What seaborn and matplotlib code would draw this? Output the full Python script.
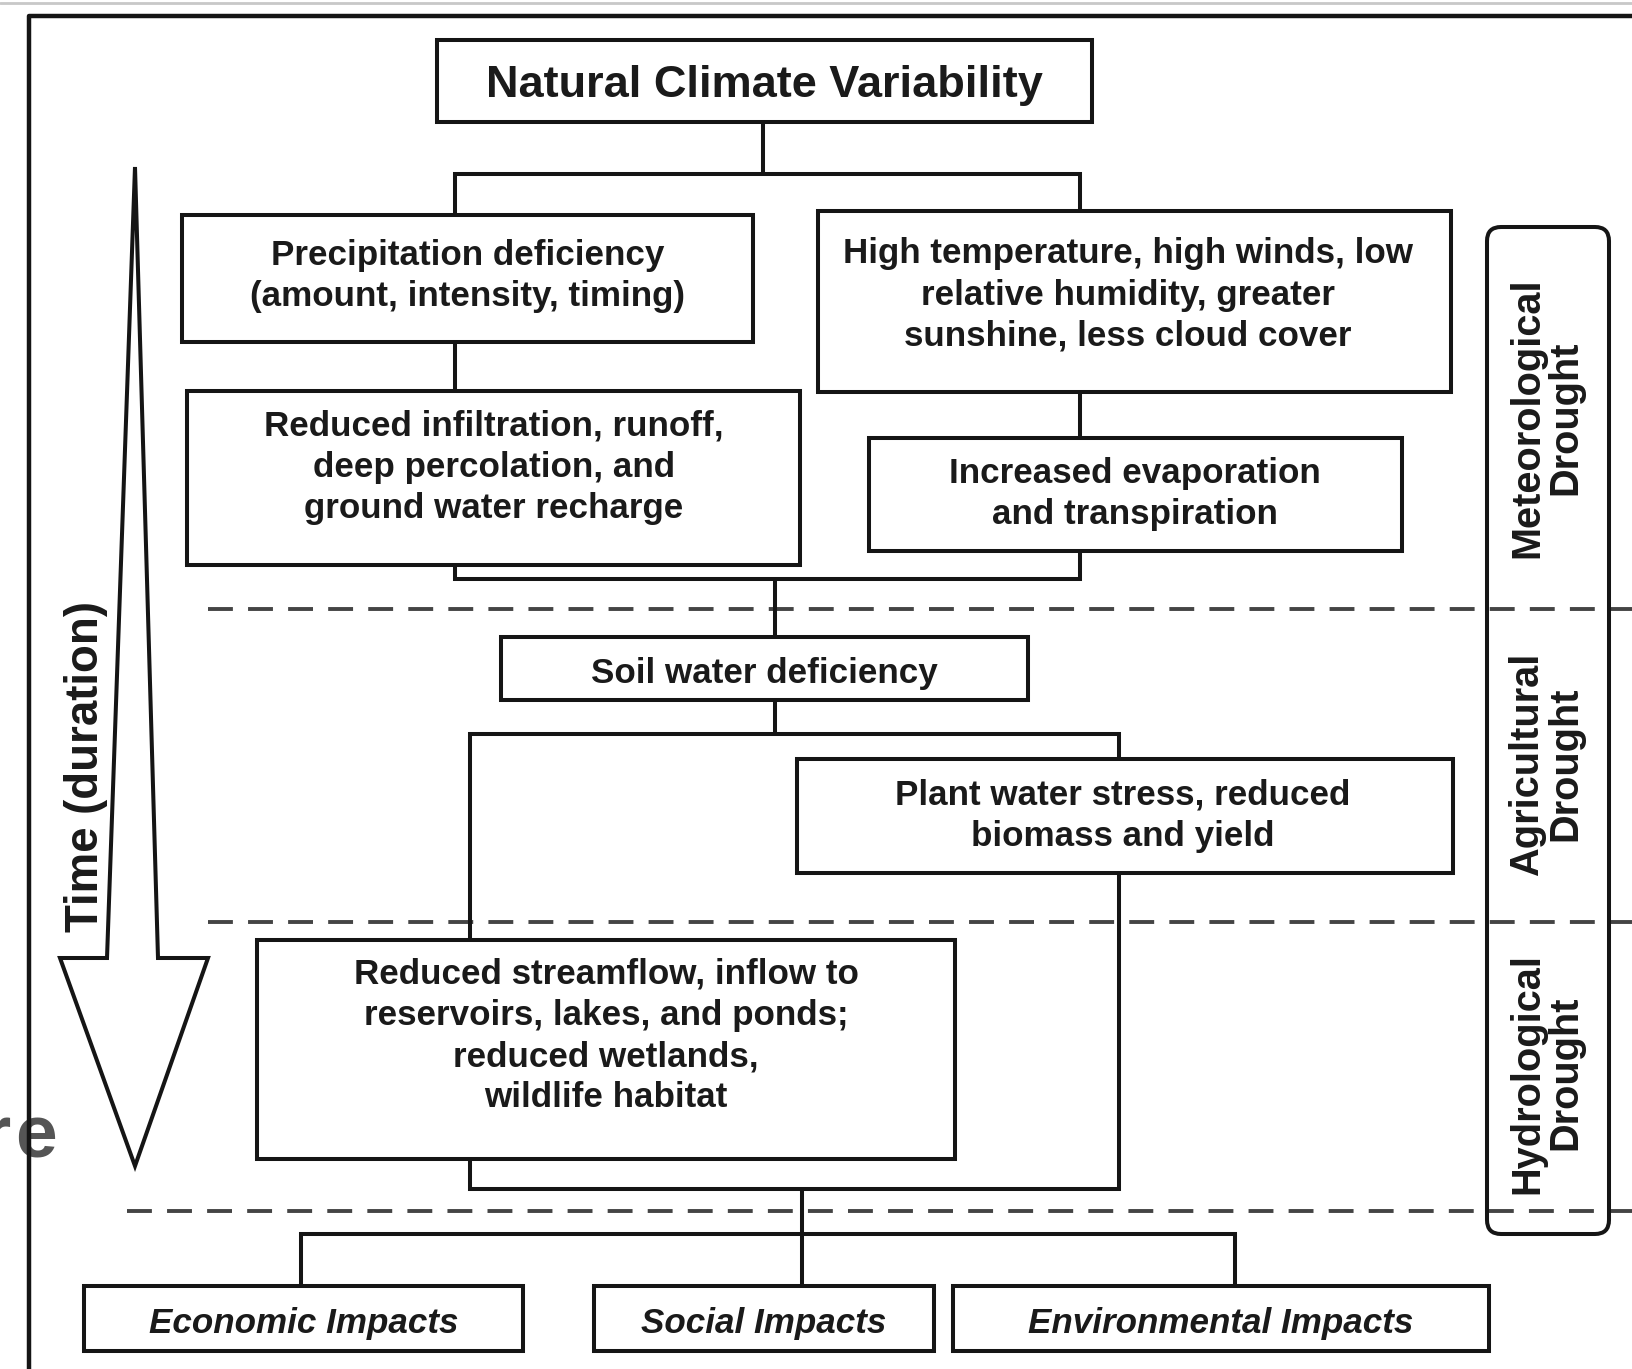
import matplotlib
matplotlib.use("Agg")
import matplotlib.pyplot as plt
from matplotlib.patches import Rectangle, FancyBboxPatch, Polygon
import seaborn as sns
import pandas as pd

sns.set_theme(style="white")
plt.rcParams['font.family'] = ['Liberation Sans', 'DejaVu Sans']

# ---- content ----
title_label = "Natural Climate Variability"
box_labels = [
    "Precipitation deficiency\n(amount, intensity, timing)",
    "High temperature, high winds, low\nrelative humidity, greater\nsunshine, less cloud cover",
    "Reduced infiltration, runoff,\ndeep percolation, and\nground water recharge",
    "Increased evaporation\nand transpiration",
    "Soil water deficiency",
    "Plant water stress, reduced\nbiomass and yield",
    "Reduced streamflow, inflow to\nreservoirs, lakes, and ponds;\nreduced wetlands,\nwildlife habitat",
]
impact_labels = ["Economic Impacts", "Social Impacts", "Environmental Impacts"]
drought_labels = ["Meteorological\nDrought", "Agricultural\nDrought", "Hydrological\nDrought"]
time_label = "Time (duration)"

# ---- geometry (pixel layout) ----
W, H = 1633, 1369
title_box = (437, 40, 1092, 122)
title_pos = (764, 86)
boxes = [
    (182, 215, 753, 342),
    (818, 211, 1451, 392),
    (187, 391, 800, 565),
    (869, 438, 1402, 551),
    (501, 637, 1028, 700),
    (797, 759, 1453, 873),
    (257, 940, 955, 1159),
]
text_pos = [(468, 276), (1128, 295), (494, 467), (1135, 494),
            (764, 674), (1123, 816), (606, 1036)]
impact_boxes = [(84, 1286, 523, 1351), (594, 1286, 934, 1351), (953, 1286, 1489, 1351)]
impact_y = 1324
drought_y = [418, 764, 1073]
drought_x = 1546
connectors = [
    [(763, 122), (763, 174)],
    [(455, 215), (455, 174), (1080, 174), (1080, 211)],
    [(455, 342), (455, 391)],
    [(1080, 392), (1080, 438)],
    [(455, 565), (455, 579), (1080, 579), (1080, 551)],
    [(775, 579), (775, 637)],
    [(775, 700), (775, 734)],
    [(470, 940), (470, 734), (1119, 734), (1119, 759)],
    [(1119, 873), (1119, 1189), (470, 1189), (470, 1159)],
    [(802, 1189), (802, 1286)],
    [(301, 1286), (301, 1234), (1235, 1234), (1235, 1286)],
]
dashes_y = [(208, 609), (208, 922), (127, 1211)]

fig = plt.figure(figsize=(W / 100, H / 100), dpi=100)
ax = fig.add_axes([0, 0, 1, 1])

LW = 2.9
INK = "#151515"
TXT = "#1a1a1a"

# dashed level lines
for x0, y in dashes_y:
    df = pd.DataFrame({"x": [x0, W + 5], "y": [y, y]})
    sns.lineplot(data=df, x="x", y="y", ax=ax, color="#444444", lw=2.8,
                 linestyle=(0, (6.4, 3.9)), sort=False, zorder=2)
ax.set_xlim(0, W)
ax.set_ylim(H, 0)
ax.axis("off")

# watermark fragment (behind the frame)
ax.text(11, 1157, "r", ha="right", va="baseline", fontsize=54,
        fontweight="bold", color="#555555", zorder=1)
ax.text(15, 1157, "e", ha="left", va="baseline", fontsize=54,
        fontweight="bold", color="#555555", zorder=1)

# top gray strip line
ax.plot([0, W], [3, 3], color="#c8c8c8", lw=2, zorder=2)
# outer frame
ax.plot([29, 29, W + 10], [H + 10, 16, 16], color=INK, lw=3.2,
        solid_capstyle="butt", zorder=2)

# connectors
for seg in connectors:
    xs = [p[0] for p in seg]
    ys = [p[1] for p in seg]
    ax.plot(xs, ys, color=INK, lw=LW, solid_joinstyle="miter", zorder=2)

def draw_box(b, pos, text, size, style="normal", ls=1.31):
    x0, y0, x1, y1 = b
    ax.add_patch(Rectangle((x0, y0), x1 - x0, y1 - y0, facecolor="white",
                           edgecolor=INK, lw=LW, zorder=3))
    ax.text(pos[0], pos[1], text, ha="center", va="center",
            fontsize=size, fontweight="bold", fontstyle=style, color=TXT,
            linespacing=ls, zorder=4)

draw_box(title_box, title_pos, title_label, 32.5)
for b, p, t in zip(boxes, text_pos, box_labels):
    draw_box(b, p, t, 25.2)
for b, t in zip(impact_boxes, impact_labels):
    draw_box(b, ((b[0] + b[2]) / 2, impact_y), t, 25.2, style="italic")

# right rounded box with drought types
ax.add_patch(FancyBboxPatch((1487, 227), 1609 - 1487, 1234 - 227,
                            boxstyle="round,pad=0,rounding_size=14",
                            facecolor="none", edgecolor=INK, lw=LW, zorder=3))
for y, t in zip(drought_y, drought_labels):
    ax.text(drought_x, y, t, rotation=90, ha="center", va="center",
            fontsize=28.6, fontweight="bold", color=TXT,
            linespacing=1.0, zorder=4)

# time arrow
arrow = [(135, 167), (107, 958), (60, 958), (135, 1166), (208, 958), (158, 958)]
ax.add_patch(Polygon(arrow, closed=True, facecolor="white", edgecolor=INK,
                     lw=2.9, joinstyle="miter", zorder=3))
ax.text(86, 767, time_label, rotation=90, ha="center", va="center",
        fontsize=32.9, fontweight="bold", color=TXT, zorder=4)

fig.savefig("out.png", dpi=100)
